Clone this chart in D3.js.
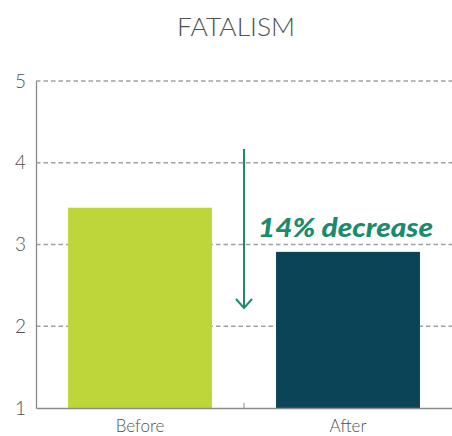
<!DOCTYPE html>
<html>
<head>
<meta charset="utf-8">
<script src="https://cdn.jsdelivr.net/npm/d3@7"></script>
<style>
  html, body { margin: 0; padding: 0; background: #fff; }
  svg { display: block; }
</style>
</head>
<body>
<svg id="chart" width="452" height="436"></svg>
<script>
// Fatalism scores before and after
const categories = ["Before", "After"];
const values = [3.45, 2.91];
const barColors = ["#bfd63b", "#0b4357"];
const yTicks = [1, 2, 3, 4, 5];
const chartTitle = "FATALISM";
const changeLabel = "14% decrease";

const svg = d3.select("#chart");
const W = 452, H = 436;
const margin = { top: 81, right: 0, bottom: 28, left: 36 };

const x = d3.scaleBand()
  .domain(categories)
  .range([margin.left, W - margin.right])
  .padding(0);

const y = d3.scaleLinear()
  .domain([1, 5])
  .range([H - margin.bottom, margin.top]);

const barWidth = x.bandwidth() * 0.692;

// Title
svg.append("text")
  .attr("x", 236)
  .attr("y", 36)
  .attr("text-anchor", "middle")
  .attr("font-family", "Lato, 'Open Sans', sans-serif")
  .attr("font-weight", 300)
  .attr("font-size", 25)
  .attr("textLength", 118)
  .attr("lengthAdjust", "spacingAndGlyphs")
  .attr("fill", "#4f5253")
  .text(chartTitle);

// Dashed gridlines
svg.append("g")
  .selectAll("line")
  .data(yTicks.filter(d => d > 1))
  .join("line")
  .attr("x1", margin.left)
  .attr("x2", W - margin.right)
  .attr("y1", d => y(d))
  .attr("y2", d => y(d))
  .attr("stroke", "#a0a0a0")
  .attr("stroke-width", 1.4)
  .attr("stroke-dasharray", "4.5,3");

// Bars
svg.append("g")
  .selectAll("rect")
  .data(categories)
  .join("rect")
  .attr("x", d => x(d) + (x.bandwidth() - barWidth) / 2)
  .attr("width", barWidth)
  .attr("y", (d, i) => y(values[i]))
  .attr("height", (d, i) => y(1) - y(values[i]))
  .attr("fill", (d, i) => barColors[i]);

// Y axis
const yAxis = svg.append("g")
  .attr("transform", `translate(${margin.left},0)`)
  .call(d3.axisLeft(y).tickValues(yTicks).tickSize(0).tickPadding(10).tickFormat(d3.format("d")));
yAxis.select(".domain").attr("stroke", "#8a8a8a").attr("stroke-width", 1.3);
yAxis.selectAll("text")
  .attr("font-family", "Lato, 'Open Sans', sans-serif")
  .attr("font-weight", 300)
  .attr("font-size", 19)
  .attr("fill", "#4f5253");

// X axis
const xAxis = svg.append("g")
  .attr("transform", `translate(0,${y(1)})`)
  .call(d3.axisBottom(x).tickSize(0).tickPadding(12));
xAxis.select(".domain").attr("stroke", "#8a8a8a").attr("stroke-width", 1.3);
xAxis.selectAll("text")
  .attr("font-family", "Lato, 'Open Sans', sans-serif")
  .attr("font-weight", 300)
  .attr("font-size", 17)
  .attr("fill", "#4f5253");

// Divider tick between categories
const midX = x(categories[1]);
svg.append("line")
  .attr("x1", midX).attr("x2", midX)
  .attr("y1", y(1)).attr("y2", y(1) - 5)
  .attr("stroke", "#8a8a8a")
  .attr("stroke-width", 1);

// Decrease arrow
const green = "#1b8b6d";
const arrowTop = 149, arrowBottom = 308;
svg.append("line")
  .attr("x1", midX).attr("x2", midX)
  .attr("y1", arrowTop).attr("y2", arrowBottom)
  .attr("stroke", green)
  .attr("stroke-width", 2);
svg.append("path")
  .attr("d", `M${midX - 8},${arrowBottom - 9} L${midX},${arrowBottom} L${midX + 8},${arrowBottom - 9}`)
  .attr("fill", "none")
  .attr("stroke", green)
  .attr("stroke-width", 2);

// Decrease label
svg.append("text")
  .attr("x", 258)
  .attr("y", 237)
  .attr("font-family", "Lato, 'Open Sans', sans-serif")
  .attr("font-weight", 900)
  .attr("font-style", "italic")
  .attr("font-size", 26)
  .attr("textLength", 175)
  .attr("lengthAdjust", "spacingAndGlyphs")
  .attr("fill", green)
  .text(changeLabel);
</script>
</body>
</html>
